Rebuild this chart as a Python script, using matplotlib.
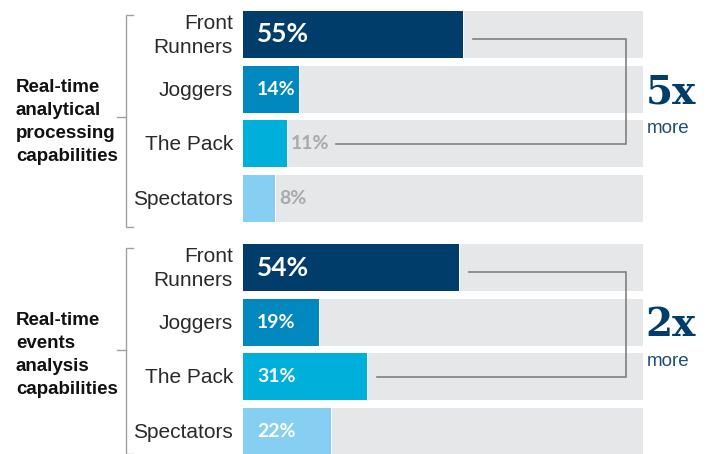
import matplotlib.pyplot as plt

# survey results, percent of respondents per segment
segments = ["Front\nRunners", "Joggers", "The Pack", "Spectators"]
analytical = [55, 14, 11, 8]
events = [54, 19, 31, 22]
group_titles = ["Real-time\nanalytical\nprocessing\ncapabilities",
                "Real-time\nevents\nanalysis\ncapabilities"]
multipliers = ["5x", "2x"]

colors = ["#003d6b", "#0088bf", "#00b0da", "#86cff2"]
track = "#e6e7e8"
navy = "#003d6b"

plt.rcParams['font.family'] = ['Liberation Sans', 'DejaVu Sans']

fig = plt.figure(figsize=(7.09, 4.54), dpi=100)
ax = fig.add_axes([0, 0, 1, 1])
# x in percent (100% = 400px starting at px 243), y in pixels from the top
ax.set_xlim(-243 / 4, (709 - 243) / 4)
ax.set_ylim(454, 0)
ax.axis("off")

pitch = 54.7
bar_h = 47
group_top = [34.5, 267.5]

for g, values in enumerate([analytical, events]):
    ys = [group_top[g] + i * pitch for i in range(len(values))]
    for i, (y, v) in enumerate(zip(ys, values)):
        ax.barh(y, 100 - v - 0.3, left=v + 0.3, height=bar_h, color=track)
        ax.barh(y, v, height=bar_h, color=colors[i])
        ax.text(-2.5, y + 1, segments[i], ha="right", va="center",
                fontsize=15, color="#2a2a2a", linespacing=1.3)
        big = i == 0
        if v >= 14:
            ax.text(3.5, y, f"{v}%", ha="left", va="center", color="white",
                    fontsize=19 if big else 14, fontweight="bold",
                    family=["Lato", "DejaVu Sans"])
        else:
            ax.text(v + 1, y, f"{v}%", ha="left", va="center", color="#a7a9ac",
                    fontsize=14, fontweight="bold", family=["Lato", "DejaVu Sans"])

    # bracket around the group
    top = ys[0] - 20
    bottom = min(ys[-1] + 28, 454)
    mid = (ys[0] + ys[-1]) / 2 + 0.5
    ax.plot([-27.5, -29.25, -29.25, -27.5], [top, top, bottom, bottom],
            color="#a0a0a0", lw=1, solid_joinstyle="miter")
    ax.plot([-31.5, -29.25], [mid, mid], color="#a0a0a0", lw=1)
    ax.text(-56.75, mid + 5, group_titles[g], ha="left", va="center",
            fontsize=13.5, fontweight="bold", color="#111111", linespacing=1.45)

    # connector between Front Runners and The Pack
    end = values[2] + (12.3 if values[2] < 14 else 2.5)
    ax.plot([values[0] + 2.5, 95.75, 95.75, end],
            [ys[0] + 4.5, ys[0] + 4.5, ys[2], ys[2]],
            color="#808080", lw=1.2, solid_joinstyle="miter")

    ax.text(100.7, ys[1] + 3, multipliers[g], ha="left", va="center",
            fontsize=28, fontweight="bold", color=navy,
            family=["DejaVu Serif"])
    ax.text(100.9, ys[1] + 39, "more", ha="left", va="center",
            fontsize=13.5, color="#1f4e79")

fig.savefig("out.png", dpi=100)
